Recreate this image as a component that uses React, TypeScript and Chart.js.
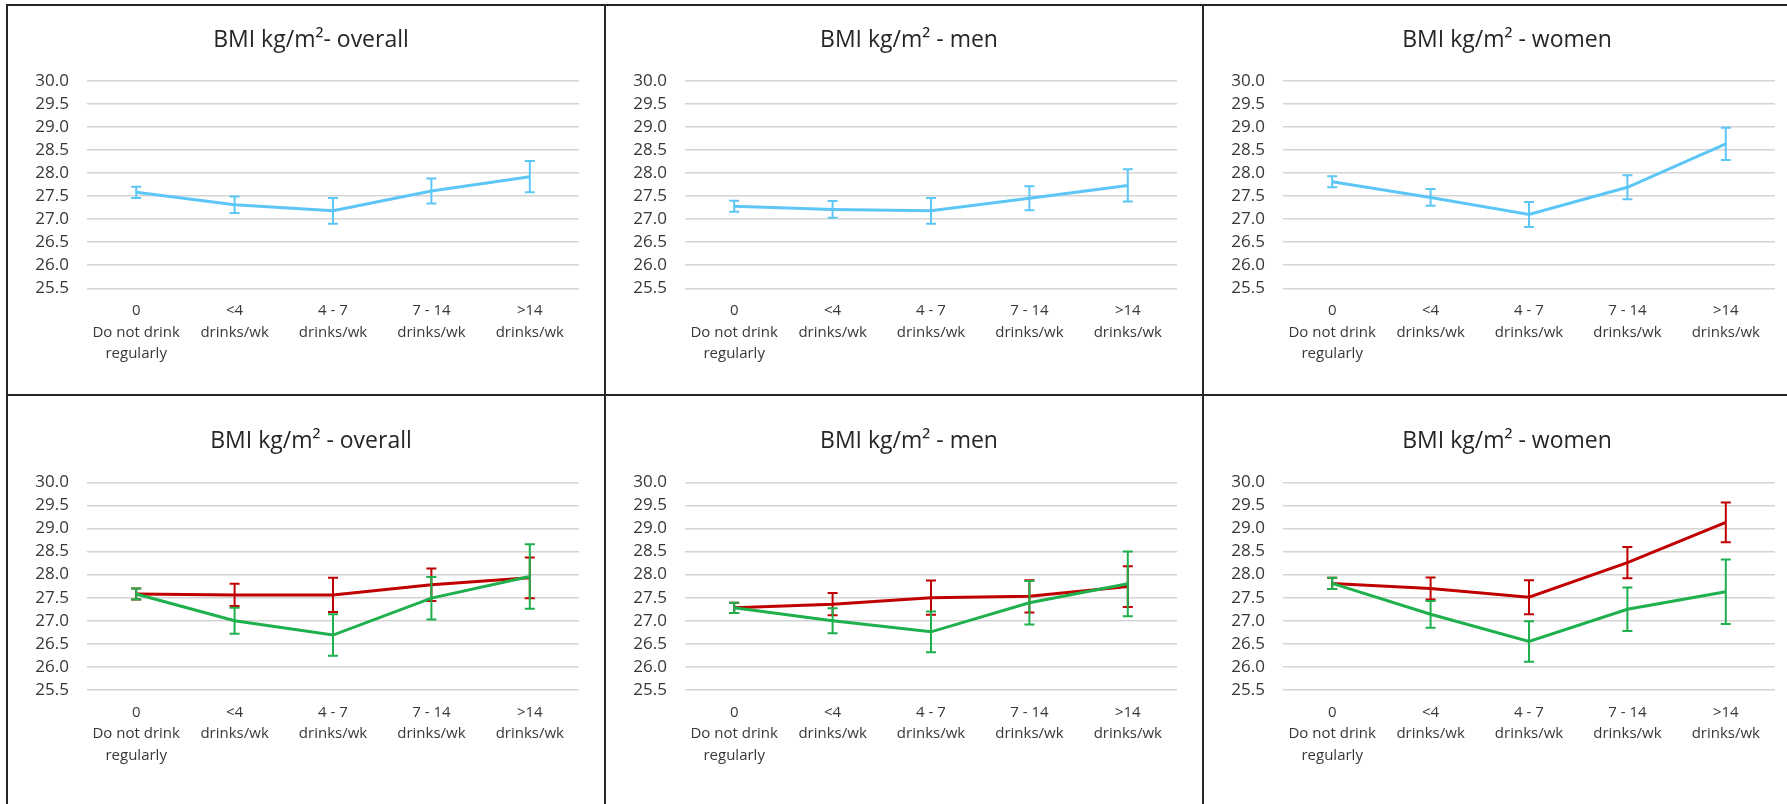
import React, { useEffect, useRef } from "react";
import { Chart, registerables } from "chart.js";
Chart.register(...registerables);

// ---------- data ----------
const categories: string[][] = [
  ["0", "Do not drink", "regularly"],
  ["<4", "drinks/wk"],
  ["4 - 7", "drinks/wk"],
  ["7 - 14", "drinks/wk"],
  [">14", "drinks/wk"],
];
const yMin = 25.5;
const yMax = 30.0;
const yStep = 0.5;

const titles = [
  "BMI kg/m²- overall",
  "BMI kg/m² - men",
  "BMI kg/m² - women",
  "BMI kg/m² - overall",
  "BMI kg/m² - men",
  "BMI kg/m² - women",
];

// top row (single light-blue series)
const overallAll = [27.58, 27.31, 27.18, 27.61, 27.92];
const overallAllErr = [0.12, 0.18, 0.28, 0.27, 0.34];
const menAll = [27.28, 27.21, 27.18, 27.45, 27.73];
const menAllErr = [0.12, 0.18, 0.28, 0.26, 0.35];
const womenAll = [27.81, 27.47, 27.1, 27.69, 28.63];
const womenAllErr = [0.12, 0.18, 0.27, 0.26, 0.35];

// bottom row (green and red series)
const overallGreen = [27.58, 27.0, 26.69, 27.49, 27.96];
const overallGreenErr = [0.12, 0.28, 0.45, 0.46, 0.7];
const overallRed = [27.58, 27.56, 27.56, 27.78, 27.93];
const overallRedErr = [0.12, 0.24, 0.37, 0.35, 0.44];
const menGreen = [27.28, 27.0, 26.76, 27.39, 27.8];
const menGreenErr = [0.11, 0.27, 0.44, 0.47, 0.7];
const menRed = [27.28, 27.36, 27.5, 27.53, 27.74];
const menRedErr = [0.11, 0.24, 0.37, 0.35, 0.44];
const womenGreen = [27.81, 27.14, 26.55, 27.25, 27.63];
const womenGreenErr = [0.12, 0.29, 0.44, 0.47, 0.7];
const womenRed = [27.81, 27.7, 27.51, 28.26, 29.13];
const womenRedErr = [0.12, 0.24, 0.37, 0.34, 0.43];

// ---------- styles ----------
const BLUE = "#5cc6f7";
const GREEN = "#1db04c";
const RED = "#c00000";
const FONT = "'Open Sans', sans-serif";
const TEXT = "#383838";

const errorBarPlugin = {
  id: "errorBars",
  afterDatasetDraw(chart: any, args: any) {
    const ds = chart.data.datasets[args.index];
    const errs: number[] | undefined = ds.errors;
    if (!errs) return;
    const yScale = chart.scales.y;
    const ctx = chart.ctx;
    ctx.save();
    ctx.strokeStyle = ds.borderColor;
    ctx.lineWidth = 2;
    const cap = 5;
    args.meta.data.forEach((pt: any, i: number) => {
      const v = ds.data[i];
      const e = errs[i];
      const x = pt.x;
      const yt = yScale.getPixelForValue(v + e);
      const yb = yScale.getPixelForValue(v - e);
      ctx.beginPath();
      ctx.moveTo(x, yt);
      ctx.lineTo(x, yb);
      ctx.moveTo(x - cap, yt);
      ctx.lineTo(x + cap, yt);
      ctx.moveTo(x - cap, yb);
      ctx.lineTo(x + cap, yb);
      ctx.stroke();
    });
    ctx.restore();
  },
};

const panelTitlePlugin = {
  id: "panelTitle",
  afterDraw(chart: any, _args: any, opts: any) {
    if (!opts || !opts.text) return;
    const ctx = chart.ctx;
    ctx.save();
    ctx.fillStyle = "#262626";
    ctx.font = `normal 23px ${FONT}`;
    ctx.textAlign = "center";
    ctx.textBaseline = "middle";
    ctx.fillText(opts.text, opts.x, opts.y);
    ctx.restore();
  },
};

type Series = { values: number[]; errors: number[]; color: string };

type PanelProps = {
  left: number;
  top: number;
  width: number;
  height: number;
  title: string;
  series: Series[];
  titleY: number;
  padTop: number;
  padBottom: number;
};

function Panel(p: PanelProps) {
  const ref = useRef<HTMLCanvasElement | null>(null);
  useEffect(() => {
    if (!ref.current) return;
    const chart = new Chart(ref.current, {
      type: "line",
      data: {
        labels: categories,
        datasets: p.series.map((s) => ({
          data: s.values,
          errors: s.errors,
          borderColor: s.color,
          backgroundColor: s.color,
          borderWidth: 3,
          pointRadius: 0,
          pointHoverRadius: 0,
          tension: 0,
          fill: false,
        })) as any,
      },
      options: {
        animation: false,
        responsive: false,
        events: [],
        layout: { padding: { left: 0, right: 25, top: p.padTop, bottom: p.padBottom } },
        plugins: {
          legend: { display: false },
          tooltip: { enabled: false },
          title: { display: false },
          panelTitle: { text: p.title, x: 303, y: p.titleY },
        } as any,
        scales: {
          x: {
            type: "category",
            offset: true,
            grid: { display: false, drawTicks: false },
            border: { display: false },
            ticks: {
              color: TEXT,
              font: { family: FONT, size: 15, lineHeight: 1.43 },
              padding: 12,
              maxRotation: 0,
              autoSkip: false,
            },
            afterFit(scale: any) {
              scale.height = 80;
            },
          },
          y: {
            type: "linear",
            min: yMin,
            max: yMax,
            grid: { color: "#d4d4d4", lineWidth: 1.5, drawTicks: false },
            border: { display: false },
            ticks: {
              stepSize: yStep,
              autoSkip: false,
              color: TEXT,
              font: { family: FONT, size: 17 },
              padding: 18,
              callback: (v: any) => Number(v).toFixed(1),
            },
            afterFit(scale: any) {
              scale.width = 79;
            },
          },
        },
      },
      plugins: [errorBarPlugin, panelTitlePlugin],
    });
    return () => chart.destroy();
  }, []);
  return (
    <canvas
      ref={ref}
      width={p.width}
      height={p.height}
      style={{ position: "absolute", left: p.left, top: p.top, width: p.width, height: p.height }}
    />
  );
}

const colLefts = [8, 606, 1204];
const PANEL_W = 596;

export default function App() {
  const topSeries: Series[][] = [
    [{ values: overallAll, errors: overallAllErr, color: BLUE }],
    [{ values: menAll, errors: menAllErr, color: BLUE }],
    [{ values: womenAll, errors: womenAllErr, color: BLUE }],
  ];
  const bottomSeries: Series[][] = [
    [
      { values: overallGreen, errors: overallGreenErr, color: GREEN },
      { values: overallRed, errors: overallRedErr, color: RED },
    ],
    [
      { values: menGreen, errors: menGreenErr, color: GREEN },
      { values: menRed, errors: menRedErr, color: RED },
    ],
    [
      { values: womenGreen, errors: womenGreenErr, color: GREEN },
      { values: womenRed, errors: womenRedErr, color: RED },
    ],
  ];
  const line = "#262626";
  return (
    <div
      style={{
        position: "absolute",
        left: 0,
        top: 0,
        width: 1787,
        height: 804,
        overflow: "hidden",
        background: "#fff",
      }}
    >
      {colLefts.map((l, i) => (
        <Panel
          key={"t" + i}
          left={l}
          top={6}
          width={PANEL_W}
          height={388}
          title={titles[i]}
          series={topSeries[i]}
          titleY={34}
          padTop={74.7}
          padBottom={25.7}
        />
      ))}
      {colLefts.map((l, i) => (
        <Panel
          key={"b" + i}
          left={l}
          top={396}
          width={PANEL_W}
          height={408}
          title={titles[i + 3]}
          series={bottomSeries[i]}
          titleY={45}
          padTop={86.3}
          padBottom={34}
        />
      ))}
      {/* panel borders */}
      <div style={{ position: "absolute", left: 6, top: 4, width: 1781, height: 2, background: line }} />
      <div style={{ position: "absolute", left: 6, top: 394, width: 1781, height: 2, background: line }} />
      <div style={{ position: "absolute", left: 6, top: 4, width: 2, height: 800, background: line }} />
      <div style={{ position: "absolute", left: 604, top: 4, width: 2, height: 800, background: line }} />
      <div style={{ position: "absolute", left: 1202, top: 4, width: 2, height: 800, background: line }} />
    </div>
  );
}
